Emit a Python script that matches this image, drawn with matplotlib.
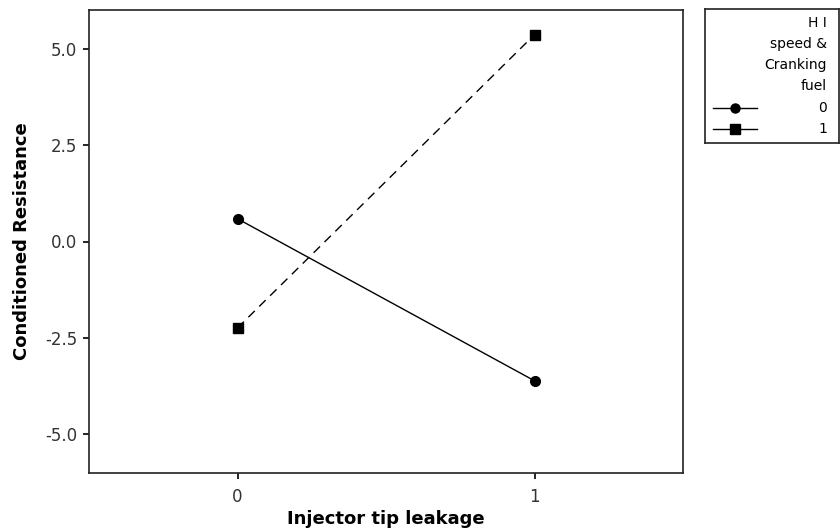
import matplotlib
matplotlib.use('agg')
import matplotlib.pyplot as plt
from matplotlib.lines import Line2D

# interaction plot data
leak_levels = [0, 1]
fuel_0 = [0.59, -3.61]
fuel_1 = [-2.24, 5.36]
legend_title = ['H I', 'speed &', 'Cranking', 'fuel']
legend_labels = ['0', '1']
yticks = [-5.0, -2.5, 0.0, 2.5, 5.0]

fig = plt.figure(figsize=(8.4, 5.31), dpi=100)
ax = fig.add_axes([89 / 840, 1 - 473 / 531, 594 / 840, 463 / 531])

ax.plot(leak_levels, fuel_0, color='black', lw=1, marker='o', ms=7)
ax.plot(leak_levels, fuel_1, color='black', lw=1, ls=(0, (6.5, 4.5)), marker='s', ms=7)

ax.set_xlim(-0.5, 1.5)
ax.set_ylim(-6, 6)
ax.set_xticks(leak_levels)
ax.set_xticklabels(['0', '1'])
ax.set_yticks(yticks)
ax.set_yticklabels(['%.1f' % v for v in yticks])
ax.tick_params(labelsize=12, labelcolor='#333333', length=4.5, width=1.2)
ax.tick_params(axis='x', pad=6)
ax.tick_params(axis='y', pad=4)
ax.set_xlabel('Injector tip leakage', fontsize=13, fontweight='bold', labelpad=3)
ax.set_ylabel('Conditioned Resistance', fontsize=13, fontweight='bold', labelpad=10)
for s in ax.spines.values():
    s.set_linewidth(1.2)
    s.set_color('#222222')

# hand-made legend box on the right (pixel units inside the box)
lax = fig.add_axes([705 / 840, 1 - 143 / 531, 134 / 840, 134 / 531])
lax.set_xlim(0, 134)
lax.set_ylim(134, 0)
lax.set_xticks([])
lax.set_yticks([])
for s in lax.spines.values():
    s.set_linewidth(1.2)
    s.set_color('#222222')
for i, line in enumerate(legend_title):
    lax.text(122, 14 + i * 21, line, ha='right', va='center', fontsize=10)
markers = ['o', 's']
for i, lab in enumerate(legend_labels):
    y = 99 + i * 21
    lax.add_line(Line2D([8, 52], [y, y], color='black', lw=1))
    lax.plot(30, y, marker=markers[i], color='black', ms=6.5)
    lax.text(122, y, lab, ha='right', va='center', fontsize=10)

plt.savefig('out.png', dpi=100)
